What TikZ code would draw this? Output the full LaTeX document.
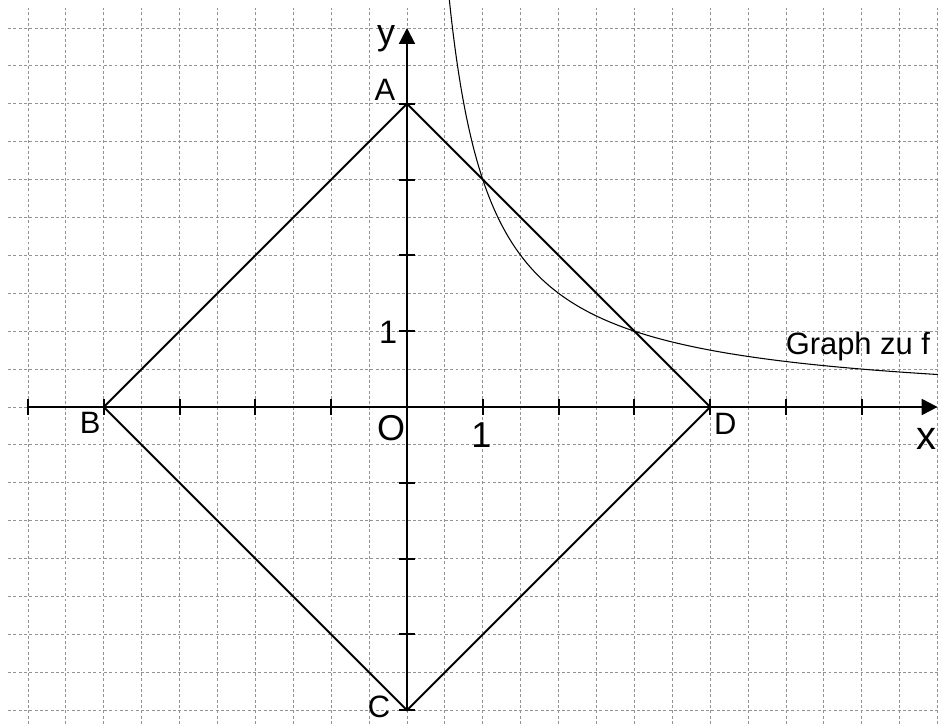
\documentclass[tikz,border=0pt]{standalone}
\usepackage{fontspec}
\setmainfont{Liberation Sans}
\usetikzlibrary{arrows.meta}
\begin{document}
\begin{tikzpicture}[
  gridline/.style={gray!85, line width=0.35pt, dash pattern=on 1.1pt off 0.9pt},
  axis/.style={line width=0.75pt, -{Triangle[length=0.21cm,width=0.21cm]}},
  tickmark/.style={line width=0.75pt},
  rhomb/.style={line width=0.75pt, line join=miter},
  graphline/.style={line width=0.4pt},
  lbl/.style={inner sep=0pt, font=\fontsize{11.6}{13}\selectfont},
  biglbl/.style={inner sep=0pt, font=\fontsize{13.5}{16}\selectfont},
]
\useasboundingbox (-5.369,-4.182) rectangle (7.005,5.369);
\clip (-5.369,-4.182) rectangle (7.005,5.369);
% grid
\foreach \i in {-10,...,14} \draw[gridline] (\i/2,-4.182) -- (\i/2,5.264);
\foreach \j in {-8,...,10} \draw[gridline] (-5.264,\j/2) -- (7.1,\j/2);
% points
\coordinate (O) at (0,0);
\coordinate (A) at (0,4);
\coordinate (B) at (-4,0);
\coordinate (C) at (0,-4);
\coordinate (D) at (4,0);
\coordinate (xs) at (-5,0);
\coordinate (xe) at (7,0);
\coordinate (ye) at (0,5);
% axes
\draw[axis] (xs) -- (xe);
\draw[axis] (C) -- (ye);
\foreach \x in {-5,-4,-3,-2,-1,1,2,3,4,5,6} \draw[tickmark] (\x,-0.105) -- (\x,0.105);
\foreach \y in {-4,-3,-2,-1,1,2,3,4} \draw[tickmark] (-0.105,\y) -- (0.105,\y);
% rhombus
\draw[rhomb] (A) -- (B) -- (C) -- (D) -- cycle;
% graph of f
\draw[graphline, domain=0.55:7.1, samples=200, smooth] plot (\x,{3/\x});
% labels
\node[lbl] (lA) at (-0.29,4.18) {A};
\node[lbl] (lB) at (-4.18,-0.21) {B};
\node[lbl, anchor=south] (lC) at (-0.37,-4.11) {C};
\node[lbl] (lD) at (4.20,-0.22) {D};
\node[biglbl] (lO) at (-0.21,-0.28) {O};
\node[biglbl] (l1x) at (0.98,-0.37) {1};
\node[inner sep=0pt, font=\fontsize{12.2}{14}\selectfont] (l1y) at (-0.25,0.98) {1};
\node[biglbl] (ly) at (-0.277,4.862) {y};
\node[inner sep=0pt, font=\fontsize{15}{18}\selectfont, anchor=east] (lx) at (6.995,-0.42) {x};
\node[lbl, anchor=base west] (lg) at (4.99,0.686) {Graph zu f};
\end{tikzpicture}
\end{document}
